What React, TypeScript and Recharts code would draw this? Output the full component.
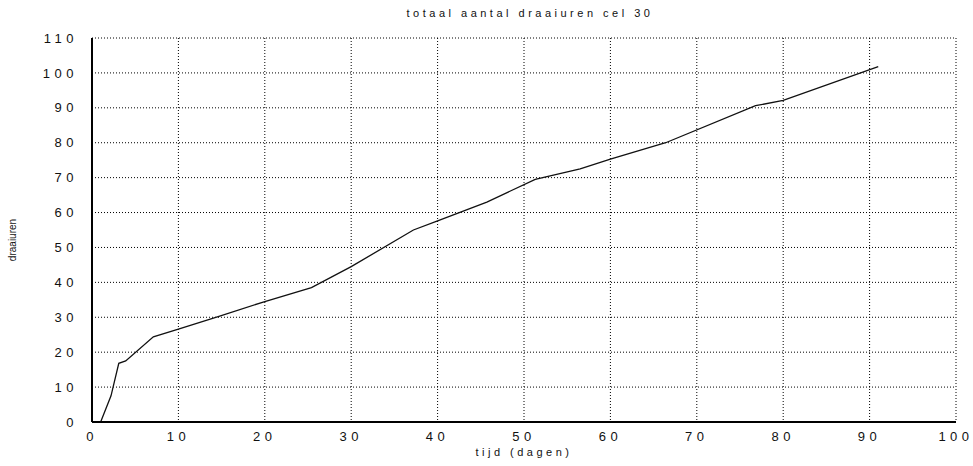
import { CartesianGrid, Line, LineChart, XAxis, YAxis } from 'recharts'

// days since start
const tijd = [1, 2.2, 3.1, 3.9, 7.1, 10, 14.6, 20, 25.4, 30, 37.2, 40, 45.7, 51.3, 56.5, 60, 66.4, 76.8, 80, 91]
// cumulative running hours
const draaiuren = [0, 7.5, 16.8, 17.5, 24.4, 26.6, 30.2, 34.5, 38.5, 44.5, 55, 57.6, 63, 69.5, 72.5, 75.3, 80, 90.6, 92.1, 101.8]

const xTicks = [0, 10, 20, 30, 40, 50, 60, 70, 80, 90, 100]
const yTicks = [0, 10, 20, 30, 40, 50, 60, 70, 80, 90, 100, 110]

const data = tijd.map((t, i) => ({ t, uren: draaiuren[i] }))

const font = '"Liberation Sans", Arial, sans-serif'
const tickStyle = { fontSize: 13, fill: '#111', fontFamily: font, letterSpacing: 4.5 }

export default function App() {
  return (
    <div style={{ position: 'absolute', left: 0, top: 0, width: 973, height: 466, background: '#fff' }}>
      <div
        style={{
          position: 'absolute',
          top: 7,
          left: 0,
          width: 1060,
          textAlign: 'center',
          fontFamily: font,
          fontSize: 11,
          letterSpacing: 3.5,
          color: '#111',
        }}
      >
        totaal aantal draaiuren cel 30
      </div>
      <LineChart width={973} height={466} data={data} margin={{ top: 38, right: 17, bottom: 0, left: 0 }}>
        <CartesianGrid stroke="#000" strokeDasharray="1 2" strokeWidth={1} />
        <XAxis
          dataKey="t"
          type="number"
          domain={[0, 100]}
          ticks={xTicks}
          height={44}
          tickLine={false}
          tickMargin={4}
          axisLine={{ stroke: '#000', strokeWidth: 2 }}
          tick={tickStyle}
          label={{
            value: 'tijd (dagen)',
            position: 'insideBottom',
            offset: 10,
            style: { fontSize: 11, fill: '#111', fontFamily: font, letterSpacing: 3.5 },
          }}
        />
        <XAxis xAxisId="top" orientation="top" type="number" domain={[0, 100]} height={0} tick={false} tickLine={false} axisLine={{ stroke: '#000', strokeWidth: 1.5 }} />
        <YAxis
          type="number"
          domain={[0, 110]}
          ticks={yTicks}
          width={92}
          tickLine={false}
          tickMargin={8}
          axisLine={{ stroke: '#000', strokeWidth: 2 }}
          tick={tickStyle}
          label={{
            value: 'draaiuren',
            angle: -90,
            position: 'insideLeft',
            offset: 12,
            dy: 10,
            style: { fontSize: 10, fill: '#111', fontFamily: font, textAnchor: 'middle' },
          }}
        />
        <YAxis yAxisId="right" orientation="right" type="number" domain={[0, 110]} width={0} tick={false} tickLine={false} axisLine={{ stroke: '#000', strokeWidth: 1.5 }} />
        <Line
          type="linear"
          dataKey="uren"
          stroke="#111"
          strokeWidth={1.3}
          dot={false}
          isAnimationActive={false}
        />
      </LineChart>
    </div>
  )
}
